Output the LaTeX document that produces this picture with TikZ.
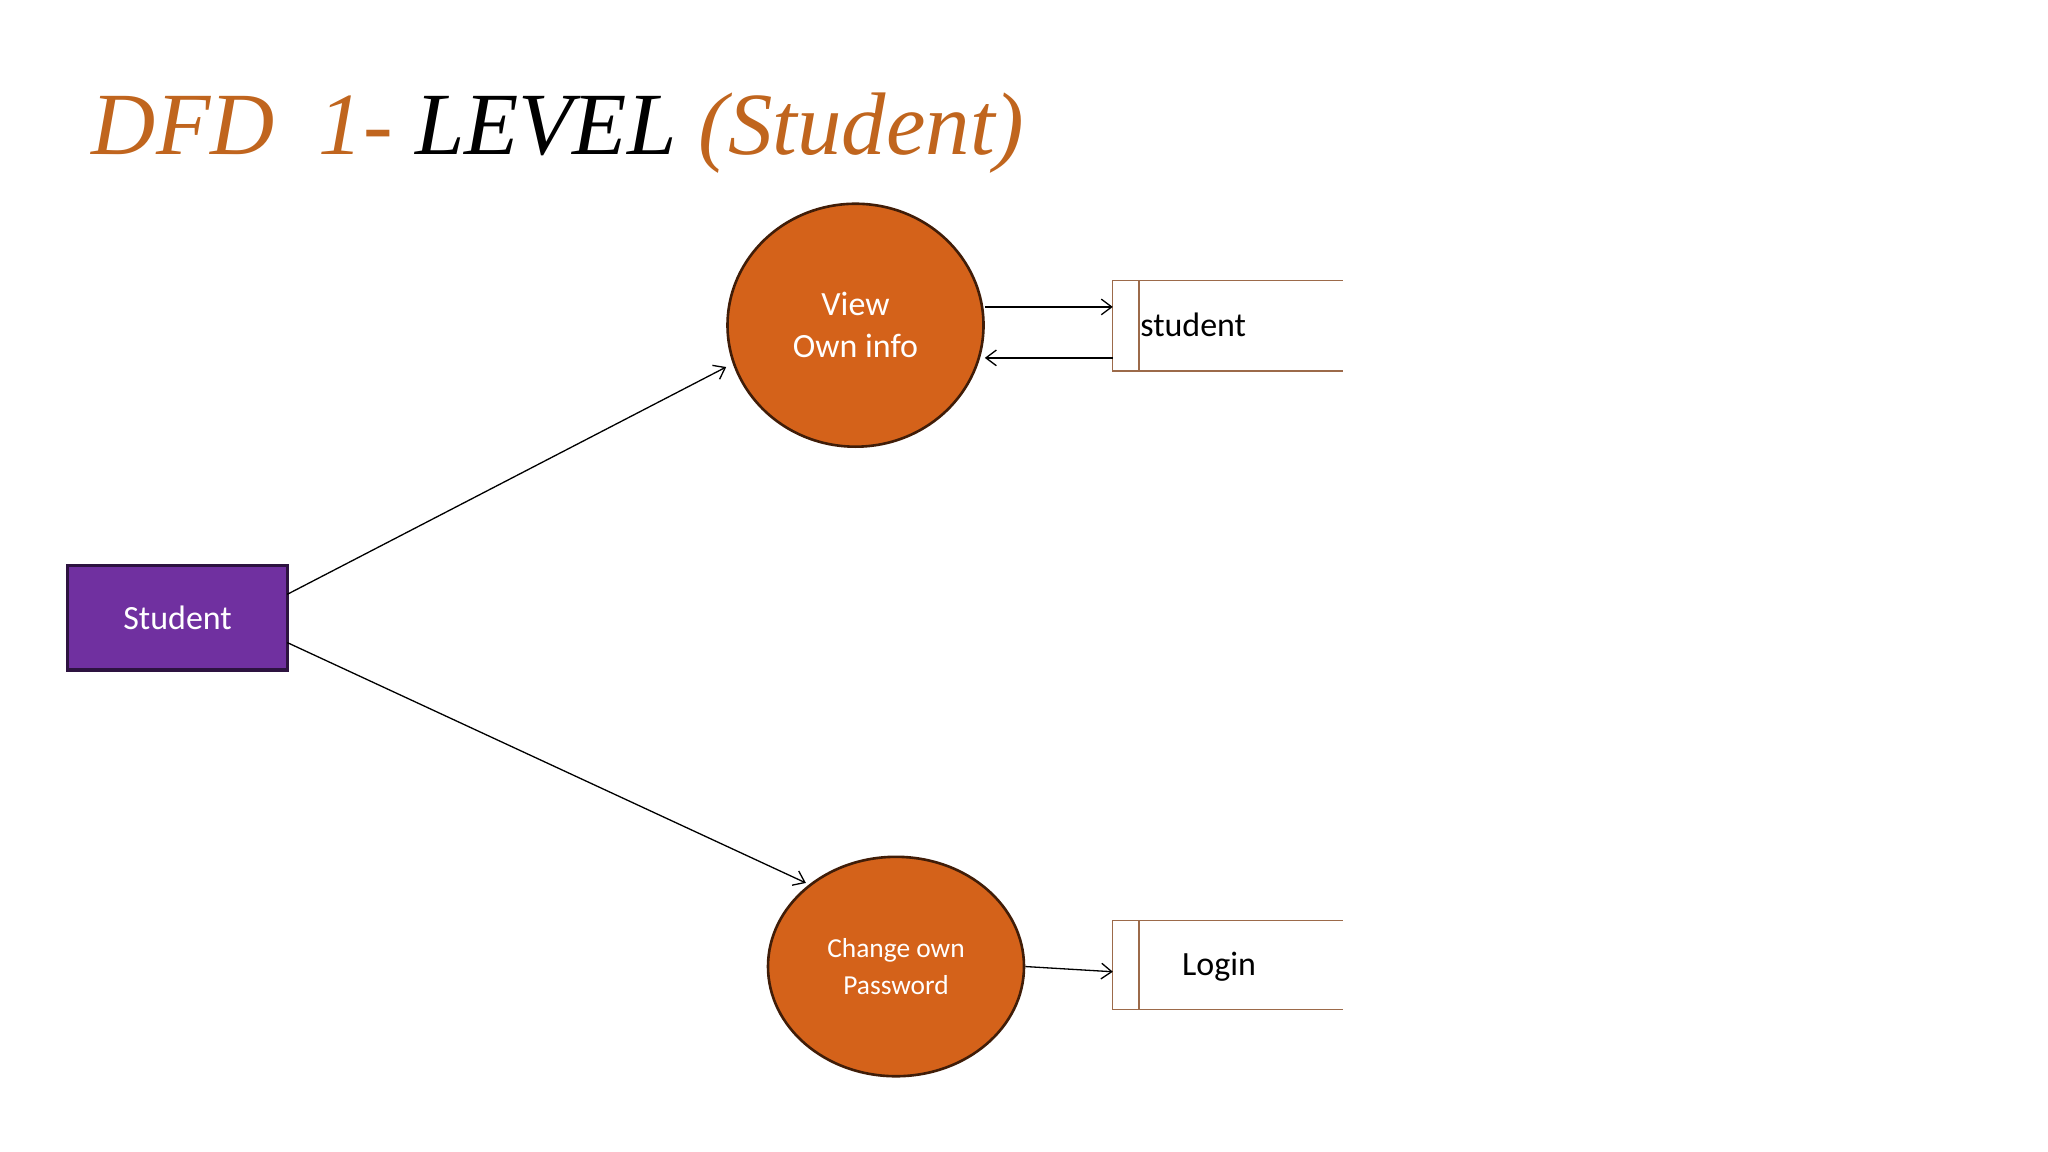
\documentclass[tikz,border=0pt]{standalone}
\usepackage{fontspec}
\setmainfont{Carlito}
\newfontfamily\titlef{Liberation Serif}
\usetikzlibrary{arrows.meta,shapes.geometric}
\definecolor{orng}{HTML}{D4621A}
\definecolor{ttl}{HTML}{C0651E}
\definecolor{purp}{HTML}{7030A0}
\definecolor{brn}{HTML}{9C6A4A}
\begin{document}
\begin{tikzpicture}[x=0.5pt,y=-0.5pt,
  proc/.style={ellipse,draw=black!70!orng,line width=1pt,fill=orng,text=white,align=center,inner sep=0pt},
  flow/.style={-{Straight Barb[length=4pt,width=6pt]},line width=0.5pt},
  store/.style={draw=brn,line width=0.5pt}]
\useasboundingbox (0,0) rectangle (1568,882);
\node[anchor=base west,font=\titlef\itshape\fontsize{34}{40}\selectfont,inner sep=0] (title) at (70,118)
  {\textcolor{ttl}{DFD\ \ 1-} LEVEL \textcolor{ttl}{(Student)}};
% entity
\node[draw=black!60!purp,line width=1.2pt,fill=purp,minimum width=84pt,minimum height=40pt,text=white,font=\fontsize{13}{15}\selectfont] (stu) at (136,473) {Student};
% processes
\node[proc,minimum width=98pt,minimum height=93pt,font=\fontsize{13}{16}\selectfont] (view) at (655,249) {View\\Own info};
\node[proc,minimum width=98pt,minimum height=84pt,font=\fontsize{10.5}{14}\selectfont] (chg) at (686,740) {Change own\\Password};
% data stores
\draw[store] (1028,215) -- (852,215) -- (852,284) -- (1028,284);
\draw[store] (872,215) -- (872,284);
\node[anchor=west,font=\fontsize{13}{15}\selectfont] (sst) at (866,249) {student};
\draw[store] (1028,705) -- (852,705) -- (852,773) -- (1028,773);
\draw[store] (872,705) -- (872,773);
\node[anchor=west,font=\fontsize{13}{15}\selectfont] (slg) at (898,740) {Login};
% connector end points
\coordinate (s1) at (220,455); \coordinate (v1) at (556,281);
\coordinate (s2) at (220,492); \coordinate (c1) at (617,676);
\coordinate (v2) at (754,235); \coordinate (d1) at (852,235);
\coordinate (d2) at (852,274); \coordinate (v3) at (754,274);
\coordinate (c2) at (785,740); \coordinate (d3) at (852,744);
\draw[flow] (s1) -- (v1);
\draw[flow] (s2) -- (c1);
\draw[flow] (v2) -- (d1);
\draw[flow] (d2) -- (v3);
\draw[flow] (c2) -- (d3);
\end{tikzpicture}
\end{document}
